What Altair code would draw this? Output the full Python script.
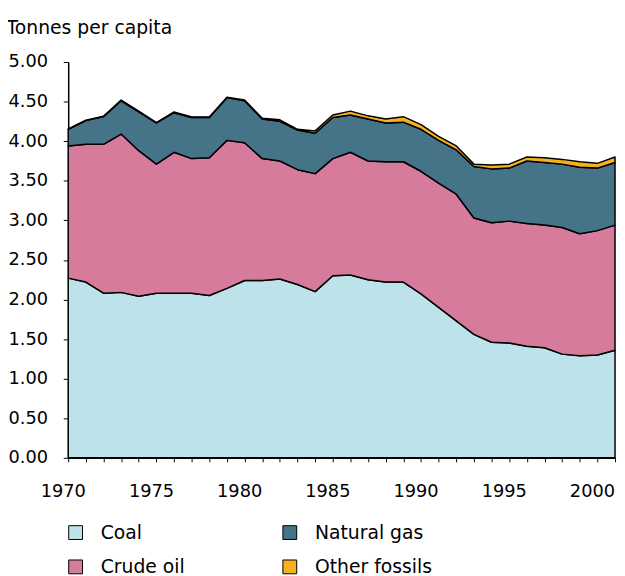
import altair as alt
import pandas as pd

years = [1970, 1971, 1972, 1973, 1974, 1975, 1976, 1977, 1978, 1979,
         1980, 1981, 1982, 1983, 1984, 1985, 1986, 1987, 1988, 1989,
         1990, 1991, 1992, 1993, 1994, 1995, 1996, 1997, 1998, 1999,
         2000, 2001]

coal = [2.27, 2.22, 2.08, 2.09, 2.04, 2.08, 2.08, 2.08, 2.05, 2.14,
        2.24, 2.24, 2.26, 2.19, 2.10, 2.30, 2.31, 2.25, 2.22, 2.22,
        2.07, 1.90, 1.73, 1.56, 1.46, 1.45, 1.41, 1.39, 1.31, 1.29,
        1.30, 1.36]

crude_oil = [1.67, 1.74, 1.88, 2.00, 1.84, 1.63, 1.78, 1.70, 1.74, 1.87,
             1.74, 1.54, 1.49, 1.45, 1.49, 1.48, 1.55, 1.50, 1.52, 1.52,
             1.55, 1.57, 1.60, 1.47, 1.51, 1.54, 1.55, 1.55, 1.60, 1.54,
             1.57, 1.58]

natural_gas = [0.21, 0.30, 0.35, 0.42, 0.49, 0.52, 0.50, 0.52, 0.51, 0.54,
               0.53, 0.50, 0.50, 0.50, 0.51, 0.52, 0.47, 0.53, 0.49, 0.50,
               0.53, 0.54, 0.56, 0.65, 0.68, 0.67, 0.79, 0.79, 0.80, 0.84,
               0.79, 0.79]

other_fossils = [0.005, 0.005, 0.005, 0.01, 0.01, 0.005, 0.01, 0.005, 0.005, 0.005,
                 0.01, 0.01, 0.02, 0.01, 0.03, 0.03, 0.05, 0.04, 0.05, 0.07,
                 0.06, 0.05, 0.05, 0.03, 0.05, 0.05, 0.05, 0.06, 0.06, 0.07,
                 0.06, 0.07]

fuels = ["Coal", "Crude oil", "Natural gas", "Other fossils"]
fuel_colors = ["#BEE2E9", "#D67B9B", "#457387", "#F5B120"]
x_labels = [1970, 1975, 1980, 1985, 1990, 1995, 2000]
y_ticks = [0, 0.5, 1.0, 1.5, 2.0, 2.5, 3.0, 3.5, 4.0, 4.5, 5.0]

series = [coal, crude_oil, natural_gas, other_fossils]
rows = []
for i, yr in enumerate(years):
    for k, name in enumerate(fuels):
        rows.append({"year": yr, "fuel": name, "value": series[k][i], "stack": k})
df = pd.DataFrame(rows)

FONT = "DejaVu Sans"
x_scale = alt.Scale(domain=[1970, 2001], nice=False, zero=False)

areas = alt.Chart(df).mark_area(
    stroke="black", strokeWidth=1.5, strokeJoin="round", opacity=1
).encode(
    x=alt.X(
        "year:Q", scale=x_scale,
        axis=alt.Axis(
            values=years, labels=False, title=None, grid=False,
            tickSize=4, orient="bottom",
        ),
    ),
    y=alt.Y(
        "value:Q", stack="zero",
        scale=alt.Scale(domain=[0, 5], nice=False),
        axis=alt.Axis(
            values=y_ticks, format=".2f", grid=False, tickSize=5, labelPadding=16,
            title="Tonnes per capita", titleAngle=0, titleX=-63, titleY=-29,
            titleAlign="left", titleBaseline="alphabetic",
            titleFontSize=19, titleFontWeight="normal", titleFont=FONT,
            titleColor="black",
        ),
    ),
    color=alt.Color(
        "fuel:N",
        scale=alt.Scale(domain=fuels, range=fuel_colors),
        legend=alt.Legend(
            title=None, orient="none", legendX=-2, legendY=467, columns=2,
            symbolType="square", symbolSize=196, symbolStrokeColor="black",
            symbolStrokeWidth=1, symbolOpacity=1,
            labelFontSize=19, labelFont=FONT, labelColor="black",
            labelOffset=16, columnPadding=96, rowPadding=15,
        ),
    ),
    order=alt.Order("stack:Q"),
)

label_axis = alt.Chart(df).mark_point(opacity=0).encode(
    x=alt.X(
        "year:Q", scale=x_scale,
        axis=alt.Axis(
            values=x_labels, format="d", title=None, grid=False,
            ticks=False, domain=False, tickSize=0, labelPadding=31,
            translate=-5, labelFlush=False, labelOverlap=False,
            orient="bottom",
        ),
    ),
)

chart = alt.layer(areas, label_axis).resolve_axis(
    x="independent"
).properties(
    width=554, height=401,
    autosize=alt.AutoSizeParams(type="none"),
    padding={"left": 61, "top": 51, "right": 2, "bottom": 116},
).configure_view(
    stroke=None
).configure_axis(
    domainColor="black", domainWidth=1.5, tickColor="black", tickWidth=1,
    labelColor="black", labelFont=FONT, labelFontSize=18,
)

chart.save("out.html", embed_options={"renderer": "svg", "actions": False})
